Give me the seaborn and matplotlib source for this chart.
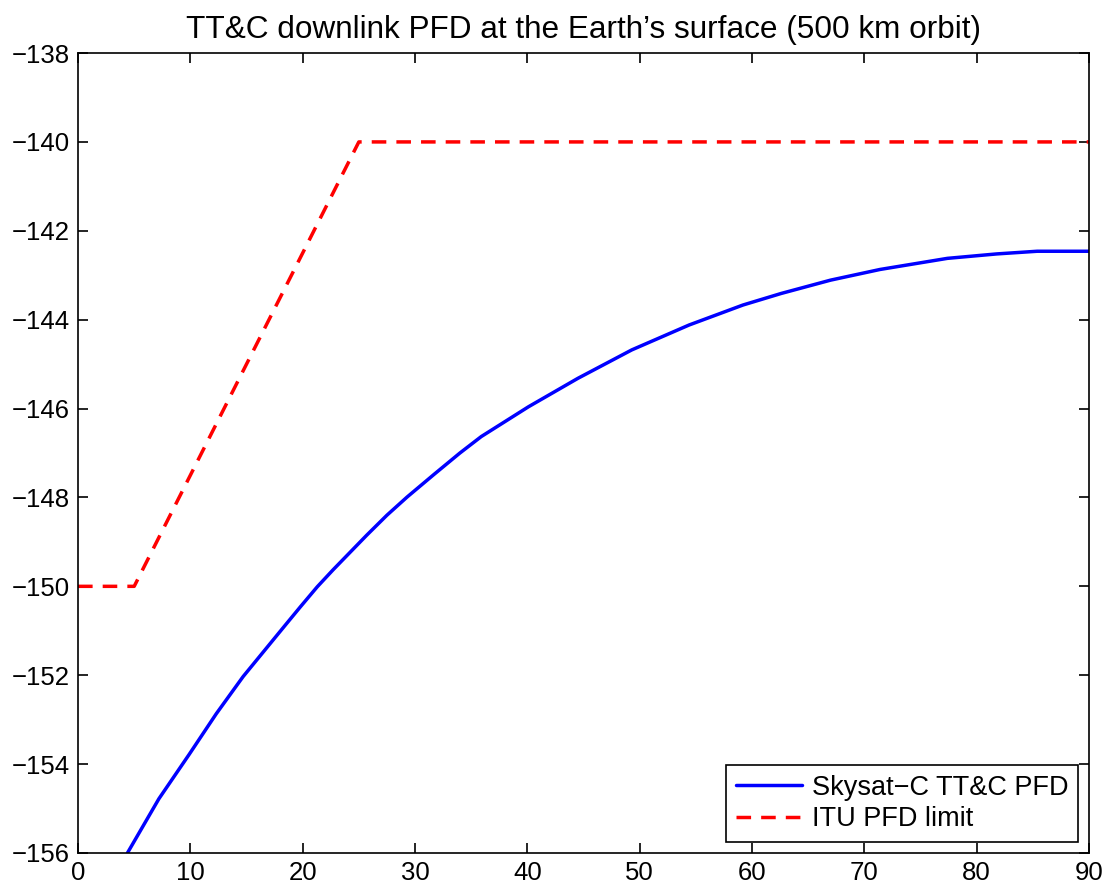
import pandas as pd
import seaborn as sns
import matplotlib.pyplot as plt

# elevation angle (deg) vs PFD
elev_skysat = [4.4, 7.2, 9.9, 12.3, 14.7, 17.1, 18.3, 19.8, 21.3, 22.7, 25.7, 27.5,
               29.3, 31.7, 34.0, 35.9, 40.1, 44.5, 49.3, 54.4, 59.2, 62.6,
               67.0, 71.4, 77.4, 81.8, 85.4, 90.0]
pfd_skysat = [-156.0, -154.78, -153.78, -152.87, -152.03, -151.29, -150.92, -150.46, -150.01, -149.63, -148.85, -148.4,
              -147.99, -147.48, -147.0, -146.63, -145.96, -145.32, -144.68, -144.12, -143.67, -143.41,
              -143.11, -142.87, -142.62, -142.52, -142.46, -142.46]

elev_itu = [0, 5, 25, 90]
pfd_itu = [-150, -150, -140, -140]

x_ticks = list(range(0, 91, 10))
y_ticks = list(range(-156, -137, 2))

df_sky = pd.DataFrame({"elev": elev_skysat, "pfd": pfd_skysat})
df_itu = pd.DataFrame({"elev": elev_itu, "pfd": pfd_itu})

sns.set_style("ticks")
plt.rcParams['font.family'] = ['Liberation Sans', 'DejaVu Sans']
plt.rcParams['text.color'] = 'black'

fig = plt.figure(figsize=(11.1, 8.9), dpi=100)
ax = fig.add_axes([0.0703, 0.0416, 0.9107, 0.8988])

sns.lineplot(data=df_sky, x="elev", y="pfd", ax=ax, color="#0000ff", linewidth=2.5,
             label="Skysat\u2212C TT&C PFD", sort=False)
sns.lineplot(data=df_itu, x="elev", y="pfd", ax=ax, color="#ff0000", linewidth=2.5,
             label="ITU PFD limit", sort=False)
ax.lines[1].set_dashes((4.2, 2.9))

ax.set_xlim(0, 90)
ax.set_ylim(-156, -138)
ax.set_xticks(x_ticks)
ax.set_yticks(y_ticks)
ax.set_xlabel("")
ax.set_ylabel("")
ax.tick_params(direction="in", length=7, width=1.2, labelsize=18.5, colors="black",
               top=True, right=True, pad=6)
for s in ax.spines.values():
    s.set_visible(True)
    s.set_linewidth(1.2)
    s.set_color("black")

ax.set_title("TT&C downlink PFD at the Earth\u2019s surface (500 km orbit)", fontsize=22.7,
             color="black", pad=11)

leg = ax.legend(loc="lower right", fontsize=19.5, frameon=True, fancybox=False,
                edgecolor="black", framealpha=1, handlelength=2.45, borderaxespad=0.42,
                labelspacing=0.2, handletextpad=0.35, borderpad=0.35)
leg.get_frame().set_linewidth(1.2)
for t in leg.get_texts():
    t.set_color("black")

fig.savefig("out.png", dpi=100)
